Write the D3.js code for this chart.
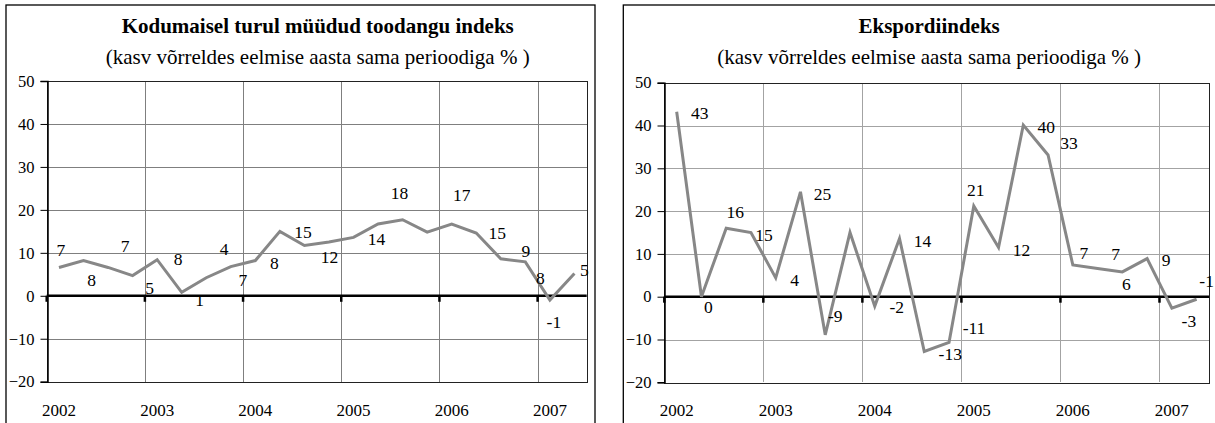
<!DOCTYPE html>
<html>
<head>
<meta charset="utf-8">
<script src="https://cdn.jsdelivr.net/npm/d3@7"></script>
<style>
  body { margin: 0; background: #fff; }
  svg { display: block; font-family: "Liberation Serif", "Times New Roman", serif; }
  .grid line { shape-rendering: crispEdges; }
</style>
</head>
<body>
<svg width="1215" height="423"></svg>
<script>
// quarters 2002 Q1 .. 2007 Q2
const quarters = [
  '2002Q1', '2002Q2', '2002Q3', '2002Q4',
  '2003Q1', '2003Q2', '2003Q3', '2003Q4',
  '2004Q1', '2004Q2', '2004Q3', '2004Q4',
  '2005Q1', '2005Q2', '2005Q3', '2005Q4',
  '2006Q1', '2006Q2', '2006Q3', '2006Q4',
  '2007Q1', '2007Q2'
];
const yearLabels = ['2002', '2003', '2004', '2005', '2006', '2007'];
const yTicks = [-20, -10, 0, 10, 20, 30, 40, 50];

// Kodumaisel turul müüdud toodangu indeks
const domesticValues = [6.6, 8.2, 6.6, 4.7, 8.4, 0.8, 4.2, 6.8, 8.2, 15.0, 11.7,
  12.5, 13.6, 16.7, 17.7, 14.8, 16.7, 14.6, 8.6, 7.9, -1.0, 5.2];
const domesticLabels = [7, 8, 7, 5, 8, 1, 4, 7, 8, 15, 12,
  null, 14, null, 18, null, 17, 15, 9, 8, -1, 5];

// Ekspordiindeks
const exportValues = [43.2, 0.0, 16.0, 15.0, 4.4, 24.5, -8.9, 15.0, -2.2, 13.6, -12.8,
  -10.7, 21.2, 11.5, 40.1, 33.1, 7.4, 6.6, 5.8, 8.9, -2.7, -0.6];
const exportLabels = [43, 0, 16, 15, 4, 25, -9, null, -2, 14, -13,
  -11, 21, 12, 40, 33, 7, 7, 6, 9, -3, -1];

// where each data label sits relative to its point (px)
const domesticLabelOffsets = [[2, -18], [8, 19], [17, -22], [17, 12], [21, -1], [18, 8],
  [18, -29], [12, 13], [19, 2], [23, 1], [25, 11], null, [23, 2], null, [-3, -27], null,
  [10, -29], [21, 0], [25, -8], [15, 16], [4, 22], [10, -4]];
const exportLabelOffsets = [[23, 1], [7, 10], [9, -16], [13, 2], [19, 2], [22, 2],
  [10, -19], null, [22, 1], [23, 2], [26, 2], [25, -15], [2, -16], [23, 2], [23, 2],
  [21, -12], [11, -12], [18, -15], [4, 12], [19, 1], [17, 13], [10, -18]];

const svg = d3.select('svg');

function drawPanel(opts) {
  const g = svg.append('g');

  // outer frame (open at the bottom, cut by the picture edge)
  g.append('rect')
    .attr('x', opts.box[0]).attr('y', opts.box[1])
    .attr('width', opts.box[2]).attr('height', 500)
    .attr('fill', 'none').attr('stroke', '#000').attr('stroke-width', 1.3);

  const x = d3.scaleBand().domain(quarters).range([opts.left, opts.right]).padding(0);
  const y = d3.scaleLinear().domain([-20, 50]).range([opts.bottom, opts.top]);
  const cx = i => x(quarters[i]) + x.bandwidth() / 2;

  // titles
  const titleX = (opts.left + opts.right) / 2 + opts.titleShift;
  g.append('text')
    .attr('x', titleX).attr('y', 32.5)
    .attr('text-anchor', 'middle')
    .attr('font-weight', 'bold').attr('font-size', 21)
    .text(opts.title);
  g.append('text')
    .attr('x', titleX).attr('y', 63.5)
    .attr('text-anchor', 'middle')
    .attr('font-size', 21)
    .text('(kasv võrreldes eelmise aasta sama perioodiga % )');

  // grid
  const grid = g.append('g').attr('class', 'grid');
  grid.selectAll('line.h').data(yTicks.filter(d => d > -20 && d < 50 && d !== 0))
    .enter().append('line')
    .attr('x1', opts.left).attr('x2', opts.right)
    .attr('y1', d => Math.round(y(d)) + 0.5).attr('y2', d => Math.round(y(d)) + 0.5)
    .attr('stroke', opts.gridColor);
  const yearIdx = yearLabels.map((d, i) => i * 4);
  grid.selectAll('line.v').data(yearIdx.slice(1))
    .enter().append('line')
    .attr('x1', d => Math.round(x(quarters[d])) + 0.5).attr('x2', d => Math.round(x(quarters[d])) + 0.5)
    .attr('y1', opts.top).attr('y2', opts.bottom)
    .attr('stroke', opts.gridColor);

  // plot frame
  g.append('rect')
    .attr('x', Math.round(opts.left) + 0.5).attr('y', Math.round(opts.top) + 0.5)
    .attr('width', Math.round(opts.right - opts.left)).attr('height', Math.round(opts.bottom - opts.top))
    .attr('fill', 'none').attr('stroke', '#222').attr('stroke-width', 1);

  // y axis
  const yAxis = d3.axisLeft(y).tickValues(yTicks).tickSize(7).tickPadding(6);
  const ya = g.append('g')
    .attr('transform', `translate(${Math.round(opts.left) + 0.5},0)`)
    .call(yAxis);
  ya.attr('font-family', null).attr('font-size', null);
  ya.select('.domain').attr('stroke', '#000').attr('stroke-width', 1.5);
  ya.selectAll('.tick line').attr('stroke', '#000');
  ya.selectAll('.tick text')
    .attr('font-family', '"Liberation Serif", serif').attr('font-size', 16.5).attr('fill', '#000');

  // zero line with year ticks
  const y0 = y(0);
  g.append('line')
    .attr('x1', opts.left).attr('x2', opts.right)
    .attr('y1', y0).attr('y2', y0)
    .attr('stroke', '#000').attr('stroke-width', 2.6);
  g.selectAll('line.yt').data(yearIdx)
    .enter().append('line')
    .attr('x1', d => x(quarters[d])).attr('x2', d => x(quarters[d]))
    .attr('y1', y0).attr('y2', y0 + 6)
    .attr('stroke', '#000').attr('stroke-width', 2.5);

  // year labels
  g.selectAll('text.year').data(yearLabels)
    .enter().append('text')
    .attr('x', (d, i) => cx(i * 4))
    .attr('y', 416)
    .attr('text-anchor', 'middle')
    .attr('font-size', 17)
    .text(d => d);

  // series line
  const line = d3.line()
    .x((d, i) => cx(i))
    .y(d => y(d));
  g.append('path')
    .datum(opts.values)
    .attr('d', line)
    .attr('fill', 'none')
    .attr('stroke', '#878787')
    .attr('stroke-width', 3)
    .attr('stroke-linejoin', 'miter');

  // data labels
  const labelData = opts.labels
    .map((d, i) => ({ text: d, i, off: opts.offsets[i] }))
    .filter(d => d.text !== null);
  g.selectAll('text.lbl').data(labelData)
    .enter().append('text')
    .attr('x', d => cx(d.i) + d.off[0])
    .attr('y', d => y(opts.values[d.i]) + d.off[1])
    .attr('dy', '0.35em')
    .attr('text-anchor', 'middle')
    .attr('font-size', 17.5)
    .text(d => d.text);
}

drawPanel({
  title: 'Kodumaisel turul müüdud toodangu indeks',
  box: [6, 5, 589],
  left: 46.7, right: 586.7, top: 81, bottom: 381.7,
  titleShift: 1,
  gridColor: '#7f7f7f',
  values: domesticValues,
  labels: domesticLabels,
  offsets: domesticLabelOffsets
});

drawPanel({
  title: 'Ekspordiindeks',
  box: [623.3, 5, 620],
  left: 664.3, right: 1209, top: 82.7, bottom: 382.3,
  titleShift: -7.5,
  gridColor: '#a3a3a3',
  values: exportValues,
  labels: exportLabels,
  offsets: exportLabelOffsets
});
</script>
</body>
</html>
